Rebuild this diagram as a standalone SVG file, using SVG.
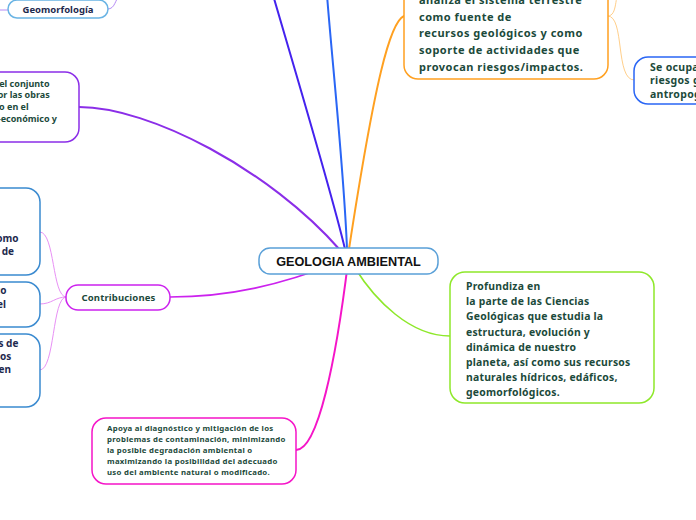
<svg xmlns="http://www.w3.org/2000/svg" width="696" height="520" viewBox="0 0 696 520">
<style>
.t{font-family:"Noto Sans","Open Sans","DejaVu Sans",sans-serif;font-weight:bold;fill:#1c4a3b}
.n{fill:#1e2a4e}
.box{fill:#fff}
.c{fill:none;stroke-linecap:round}
</style>
<rect width="696" height="520" fill="#fff"/>
<g id="connectors">
  <path class="c" d="M79,107 C150,107 270,170 340,250" stroke="#8b2ee8" stroke-width="2"/>
  <path class="c" d="M345,249 C331,190 289,50 273,-5" stroke="#4422ee" stroke-width="2"/>
  <path class="c" d="M347,249 C344,170 332,60 327,-5" stroke="#2a66f5" stroke-width="2"/>
  <path class="c" d="M404,16 C390,22 375,80 349,249" stroke="#ffa020" stroke-width="2"/>
  <path class="c" d="M355,268 C375,300 410,336 450,336" stroke="#8ee82a" stroke-width="1.6"/>
  <path class="c" d="M170,297 C230,297 280,285 340,262" stroke="#cc22ee" stroke-width="1.6"/>
  <path class="c" d="M348,262 C336,360 318,450 296,450" stroke="#f515c8" stroke-width="2"/>
  <path class="c" d="M66,297 C52,297 55,232 40,232" stroke="#e890f5" stroke-width="1"/>
  <path class="c" d="M66,297 C55,297 52,304 40,304" stroke="#e890f5" stroke-width="1"/>
  <path class="c" d="M66,297 C52,297 55,370 40,370" stroke="#e890f5" stroke-width="1"/>
  <path class="c" d="M608,16 C625,16 615,80 634,80" stroke="#ffcf8a" stroke-width="1"/>
  <path class="c" d="M608,16 C618,16 614,-5 620,-10" stroke="#ffcf8a" stroke-width="1"/>
  <path class="c" d="M-5,10 L8,10" stroke="#b58af5" stroke-width="1"/>
  <path class="c" d="M108,9 C115,9 115,0 120,-6" stroke="#b58af5" stroke-width="1"/>
</g>
<g id="geomorfologia">
  <rect class="box" x="8" y="0" width="100" height="18" rx="9" stroke="#6ab4e4" stroke-width="1.5"/>
  <text class="t n" x="58" y="12.7" font-size="9.5" text-anchor="middle">Geomorfología</text>
</g>
<g id="conjunto">
  <rect class="box" x="-100" y="72" width="179" height="70" rx="14" stroke="#8b2ee8" stroke-width="1.5"/>
  <text class="t" font-size="9" text-anchor="end">
    <tspan x="52" y="86.7">el conjunto</tspan>
    <tspan x="52" y="98.3">or las obras</tspan>
    <tspan x="31" y="110">o en el</tspan>
    <tspan x="57" y="122.3">-económico y</tspan>
  </text>
</g>
<g id="orange">
  <rect class="box" x="404" y="-40" width="204" height="119" rx="14" stroke="#ffa020" stroke-width="1.5"/>
  <text class="t" font-size="11" letter-spacing="0.5">
    <tspan x="419" y="4.2">analiza el sistema terrestre</tspan>
    <tspan x="419" y="20.8">como fuente de</tspan>
    <tspan x="419" y="37.4">recursos geológicos y como</tspan>
    <tspan x="419" y="54">soporte de actividades que</tspan>
    <tspan x="419" y="70.6">provocan riesgos/impactos.</tspan>
  </text>
</g>
<g id="seocupa">
  <rect class="box" x="634" y="57" width="160" height="47" rx="14" stroke="#2a66f5" stroke-width="1.5"/>
  <text class="t" font-size="10.5" letter-spacing="0.3">
    <tspan x="650" y="70.5">Se ocupa</tspan>
    <tspan x="650" y="84">riesgos g</tspan>
    <tspan x="650" y="97.5">antropog</tspan>
  </text>
</g>
<g id="central">
  <rect class="box" x="259" y="248" width="179" height="26" rx="11" stroke="#5aa0d8" stroke-width="1.5"/>
  <text x="348.5" y="266" font-family="'Liberation Sans',Arial,sans-serif" font-weight="bold" font-size="12.7" text-anchor="middle" fill="#111">GEOLOGIA AMBIENTAL</text>
</g>
<g id="profundiza">
  <rect class="box" x="450" y="272" width="204" height="131" rx="15" stroke="#8ee82a" stroke-width="1.5"/>
  <text class="t" font-size="10.4" letter-spacing="0.22">
    <tspan x="466" y="290">Profundiza en</tspan>
    <tspan x="466" y="305">la parte de las Ciencias</tspan>
    <tspan x="466" y="320.3">Geológicas que estudia la</tspan>
    <tspan x="466" y="335.7">estructura, evolución y</tspan>
    <tspan x="466" y="350.7">dinámica de nuestro</tspan>
    <tspan x="466" y="365.7">planeta, así como sus recursos</tspan>
    <tspan x="466" y="381">naturales hídricos, edáficos,</tspan>
    <tspan x="466" y="395.7">geomorfológicos.</tspan>
  </text>
</g>
<g id="contribuciones">
  <rect class="box" x="66" y="285" width="104" height="25" rx="12" stroke="#cc22ee" stroke-width="1.5"/>
  <text class="t" x="118.5" y="300.7" font-size="9.5" letter-spacing="0.15" text-anchor="middle">Contribuciones</text>
</g>
<g id="contribA">
  <rect class="box" x="-150" y="188" width="190" height="87" rx="14" stroke="#3a8ad0" stroke-width="1.5"/>
  <text class="t n" font-size="10" text-anchor="end">
    <tspan x="21" y="241.7">omo</tspan>
    <tspan x="14" y="255">de</tspan>
  </text>
</g>
<g id="contribB">
  <rect class="box" x="-150" y="282" width="190" height="45" rx="14" stroke="#3a8ad0" stroke-width="1.5"/>
  <text class="t n" font-size="10" text-anchor="end">
    <tspan x="9" y="294">co</tspan>
    <tspan x="6" y="307.7">el</tspan>
  </text>
</g>
<g id="contribC">
  <rect class="box" x="-150" y="334" width="190" height="73" rx="14" stroke="#3a8ad0" stroke-width="1.5"/>
  <text class="t n" font-size="10" text-anchor="end">
    <tspan x="21" y="346.7">os de</tspan>
    <tspan x="14" y="360">los</tspan>
    <tspan x="11" y="373.3">en</tspan>
  </text>
</g>
<g id="apoya">
  <rect class="box" x="92" y="418" width="204" height="66" rx="14" stroke="#f515c8" stroke-width="1.5"/>
  <text class="t" font-size="7.8" letter-spacing="0.28">
    <tspan x="107" y="431">Apoya al diagnóstico y mitigación de los</tspan>
    <tspan x="107" y="442">problemas de contaminación, minimizando</tspan>
    <tspan x="107" y="453.3">la posible degradación ambiental o</tspan>
    <tspan x="107" y="464.3">maximizando la posibilidad del adecuado</tspan>
    <tspan x="107" y="475.3">uso del ambiente natural o modificado.</tspan>
  </text>
</g>
</svg>
